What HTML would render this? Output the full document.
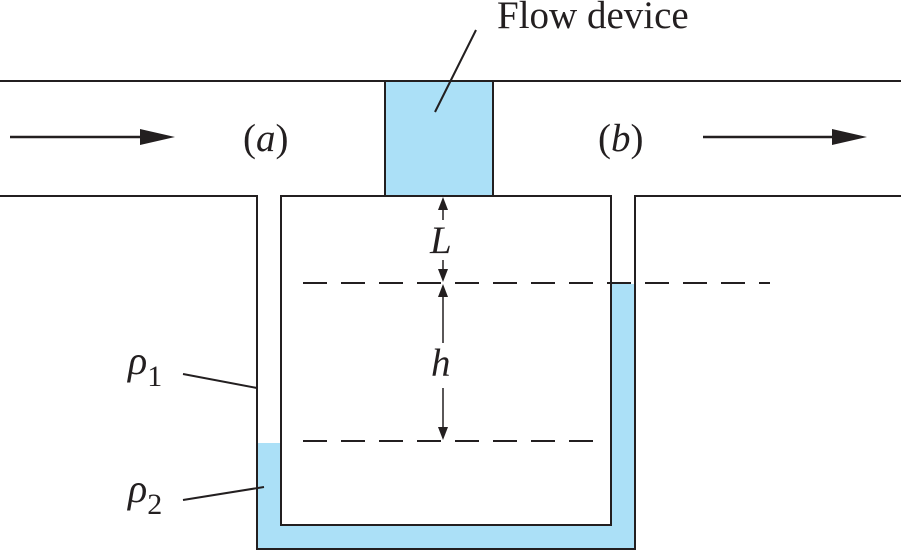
<!DOCTYPE html>
<html><head><style>body{margin:0;background:#fff}svg{display:block}text{font-family:"Liberation Serif",serif;fill:#231f20}</style></head><body>
<svg width="901" height="552" viewBox="0 0 901 552" xmlns="http://www.w3.org/2000/svg">
<g fill="#abe0f7">
<rect x="385" y="81" width="108" height="115"/>
<rect x="257" y="443" width="24" height="106"/>
<rect x="611" y="284" width="24" height="265"/>
<rect x="257" y="525" width="378" height="24"/>
</g>
<rect x="281" y="196" width="330" height="329" fill="#fff"/>
<g stroke="#231f20" stroke-width="2" fill="none">
<line x1="0" y1="81" x2="901" y2="81"/>
<polyline points="0,196 257,196 257,549 635,549 635,196 901,196"/>
<rect x="281" y="196" width="330" height="329"/>
<rect x="385" y="81" width="108" height="115"/>
<line x1="303" y1="283" x2="770" y2="283" stroke-dasharray="24,14"/>
<line x1="303" y1="441" x2="600" y2="441" stroke-dasharray="24,14"/>
<line x1="476" y1="30" x2="435" y2="112"/>
<line x1="183" y1="374" x2="257" y2="388"/>
<line x1="183" y1="500" x2="264" y2="487"/>
</g>
<g stroke="#231f20" stroke-width="2.5">
<line x1="10" y1="137" x2="160" y2="137"/>
<line x1="703" y1="137" x2="852" y2="137"/>
</g>
<path d="M140,129 L175,137 L140,145 z" fill="#231f20"/>
<path d="M832,129 L867,137 L832,145 z" fill="#231f20"/>
<g stroke="#231f20" stroke-width="1.5">
<line x1="443" y1="206" x2="443" y2="220"/><line x1="443" y1="260" x2="443" y2="274"/>
<line x1="443" y1="293" x2="443" y2="343"/><line x1="443" y1="388" x2="443" y2="432"/>
</g>
<g fill="#231f20">
<path d="M443,197 L438,210 L448,210 z"/><path d="M443,282 L438,269 L448,269 z"/>
<path d="M443,284 L438,297 L448,297 z"/><path d="M443,440 L438,427 L448,427 z"/>
</g>
<text x="497" y="28" font-size="39">Flow device</text>
<text x="243" y="151" font-size="39">(<tspan font-style="italic">a</tspan>)</text>
<text x="598" y="151" font-size="39">(<tspan font-style="italic">b</tspan>)</text>
<text x="430" y="253" font-size="39" font-style="italic">L</text>
<text x="431" y="376" font-size="39" font-style="italic">h</text>
<text x="128" y="374" font-size="40" font-style="italic">ρ<tspan font-style="normal" font-size="30" dy="12">1</tspan></text>
<text x="128" y="502" font-size="40" font-style="italic">ρ<tspan font-style="normal" font-size="30" dy="12">2</tspan></text>
</svg>
</body></html>
